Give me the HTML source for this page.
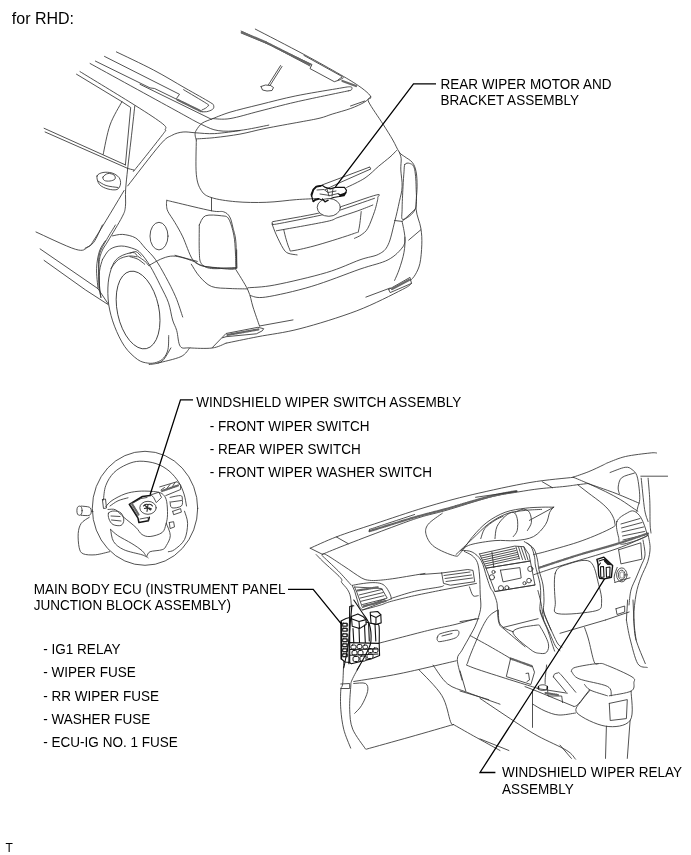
<!DOCTYPE html>
<html><head><meta charset="utf-8">
<style>
html,body{margin:0;padding:0;background:#fff;}
body{width:691px;height:855px;overflow:hidden;position:relative;}
svg{position:absolute;left:0;top:0;}
text{font-family:"Liberation Sans",sans-serif;fill:#000;}
svg{will-change:transform;}
.l{font-size:13.37px;}
.d{fill:none;stroke:#333;stroke-width:0.85;stroke-linejoin:round;stroke-linecap:round;}
.k{fill:none;stroke:#000;stroke-width:1.3;}
.h{fill:none;stroke:#6a6a6a;stroke-width:2.2;}
.hl{fill:none;stroke:#666;stroke-width:2.2;stroke-dasharray:0.7 1.1;}
.f{fill:#1a1a1a;stroke:none;}
.w{fill:none;stroke:#111;stroke-width:1.15;stroke-linejoin:round;}
</style></head><body>
<svg width="691" height="855" viewBox="0 0 691 855">
<text transform="translate(11.8,24.2) scale(1,1.0)" style="font-size:16.0px">for RHD:</text>
<text transform="translate(440.5,88.9) scale(1,1.07)" style="font-size:13.52px">REAR WIPER MOTOR AND</text>
<text transform="translate(440.5,105.1) scale(1,1.07)" style="font-size:13.52px">BRACKET ASSEMBLY</text>
<text transform="translate(196.3,406.9) scale(1,1.07)" style="font-size:13.52px">WINDSHIELD WIPER SWITCH ASSEMBLY</text>
<text transform="translate(209.8,431.1) scale(1,1.07)" style="font-size:13.52px">- FRONT WIPER SWITCH</text>
<text transform="translate(209.8,453.9) scale(1,1.07)" style="font-size:13.52px">- REAR WIPER SWITCH</text>
<text transform="translate(209.8,477) scale(1,1.07)" style="font-size:13.52px">- FRONT WIPER WASHER SWITCH</text>
<text transform="translate(33.8,594.1) scale(1,1.07)" style="font-size:13.52px">MAIN BODY ECU (INSTRUMENT PANEL</text>
<text transform="translate(33.8,610.4) scale(1,1.07)" style="font-size:13.52px">JUNCTION BLOCK ASSEMBLY)</text>
<text transform="translate(43.3,653.6) scale(1,1.07)" style="font-size:13.52px">- IG1 RELAY</text>
<text transform="translate(43.3,677.2) scale(1,1.07)" style="font-size:13.52px">- WIPER FUSE</text>
<text transform="translate(43.3,700.8) scale(1,1.07)" style="font-size:13.52px">- RR WIPER FUSE</text>
<text transform="translate(43.3,723.9) scale(1,1.07)" style="font-size:13.52px">- WASHER FUSE</text>
<text transform="translate(43.3,747.3) scale(1,1.07)" style="font-size:13.52px">- ECU-IG NO. 1 FUSE</text>
<text transform="translate(502,777.4) scale(1,1.07)" style="font-size:13.52px">WINDSHIELD WIPER RELAY</text>
<text transform="translate(502,793.5) scale(1,1.07)" style="font-size:13.52px">ASSEMBLY</text>
<text transform="translate(5.6,852) scale(1,1.05)" style="font-size:12px">T</text>
<g class="d">
<path d="M116.4,51.9 C122.6,54.9 142.1,64.0 153.5,70.0 C164.9,76.0 175.6,82.6 185.0,88.0 C194.4,93.4 205.4,99.4 210.2,102.4 C215.0,105.4 213.3,104.7 213.7,105.9 C214.1,107.1 213.7,108.4 212.5,109.4 C211.3,110.4 208.4,111.3 206.7,111.7 C205.0,112.1 202.9,111.7 202.1,111.7"/>
<path d="M183.6,89.7 C187.4,92.0 202.6,100.9 206.7,103.6 C210.8,106.3 208.1,105.1 207.9,105.9 C207.7,106.7 206.6,107.5 205.6,108.2 C204.6,108.9 202.7,109.6 202.1,109.9"/>
<path d="M104.5,56.4 L179.5,94.3 L176.6,98.4"/>
<path d="M95.4,61.1 L150.0,87.9 L154.6,88.5 L202.1,111.7"/>
<path d="M140.0,84.3 L211.3,119.2"/>
<path d="M90.1,63.5 C104.2,71.3 156.4,99.9 175.0,110.1 C193.6,120.3 194.5,121.1 201.7,124.5 C208.9,127.9 211.8,129.6 218.2,130.6 C224.6,131.6 231.6,131.3 240.0,130.4 C248.4,129.5 264.0,126.0 268.8,125.1"/>
<path class="hl" d="M177.5,99.8 L201.0,111.3"/>
<path d="M80.0,71.6 C89.1,77.2 121.0,96.5 134.8,105.2 C148.6,113.9 157.7,119.8 162.8,123.9 C167.9,128.0 165.2,128.1 165.2,129.8 C165.2,131.6 167.7,128.0 162.8,134.4 C157.9,140.8 140.8,162.5 135.9,168.4 C131.0,174.3 135.0,169.8 133.6,169.8 C132.2,169.8 128.7,168.6 127.7,168.4"/>
<path d="M76.5,74.2 L121.9,101.7 L130.7,107.5 L125.4,164.9"/>
<path d="M121.9,101.7 C119.9,105.6 113.1,116.2 110.0,125.0 C106.9,133.8 104.3,149.4 103.2,154.3"/>
<path d="M44.1,128.3 L125.4,164.9"/>
<path d="M45.1,132.0 L127.7,168.4"/>
<path d="M134.8,105.8 C134.2,111.5 132.2,129.6 131.0,140.0 C129.8,150.4 128.6,160.1 127.7,168.4 C126.8,176.7 126.0,183.6 125.6,190.0 C125.2,196.4 126.0,202.2 125.4,206.7 C124.8,211.2 125.0,211.2 122.1,216.9 C119.2,222.7 111.3,235.5 107.9,241.2 C104.5,246.9 103.4,247.6 101.9,251.3 C100.4,255.0 99.5,257.4 99.0,263.5 C98.5,269.6 99.0,283.8 99.0,287.8"/>
<path d="M240.0,130.6 C235.8,131.1 222.1,133.2 214.7,133.6 C207.3,134.0 200.9,133.1 195.6,132.8 C190.3,132.5 187.1,131.6 183.1,132.0 C179.1,132.4 175.4,133.4 171.6,135.5 C167.8,137.6 167.3,136.4 160.0,144.8 C152.7,153.2 133.1,179.1 127.7,185.9"/>
<path d="M36.0,232.0 C42.6,234.9 66.9,246.8 75.5,249.3 C84.1,251.8 84.3,249.2 87.7,247.2 C91.1,245.2 89.7,246.5 95.8,237.1 C101.9,227.7 119.4,198.3 124.1,190.5"/>
<path d="M85.0,248.2 C86.5,247.2 90.8,246.3 93.7,242.4 C96.6,238.5 101.0,227.9 102.4,225.0"/>
<path d="M40.1,248.9 L98.0,288.7 L108.2,303.9"/>
<path d="M44.1,260.4 L85.6,290.0 L108.2,304.6"/>
<path d="M97.0,176.0 C97.6,174.0 100.5,173.0 103.0,172.5 C105.5,172.0 109.3,172.2 112.0,173.0 C114.7,173.8 117.6,175.7 119.0,177.5 C120.4,179.3 120.8,182.0 120.5,184.0 C120.2,186.0 119.1,188.7 117.0,189.5 C114.9,190.3 110.9,189.8 108.0,189.0 C105.1,188.2 101.3,186.7 99.5,184.5 C97.7,182.3 96.4,178.0 97.0,176.0Z"/>
<path d="M103.0,177.0 C103.6,175.8 106.2,173.8 108.0,173.5 C109.8,173.2 112.8,174.1 114.0,175.0 C115.2,175.9 115.7,178.0 115.0,179.0 C114.3,180.0 111.8,180.8 110.0,181.0 C108.2,181.2 105.7,181.2 104.5,180.5 C103.3,179.8 102.4,178.2 103.0,177.0Z"/>
<path d="M98.0,181.0 C99.3,181.8 102.7,184.4 106.0,185.5 C109.3,186.6 116.0,187.2 118.0,187.5"/>
<path d="M115.4,225.0 C114.0,227.4 109.4,234.7 106.7,239.5 C104.0,244.3 100.8,249.1 99.5,253.9 C98.2,258.7 98.7,263.1 98.7,268.4 C98.7,273.7 99.1,281.0 99.5,285.8 C99.9,290.6 100.7,295.5 100.9,297.4"/>
<path d="M105.3,240.9 C104.3,242.6 101.0,246.4 99.5,251.0 C98.0,255.6 96.8,262.1 96.6,268.4 C96.3,274.7 97.8,285.3 98.0,288.7"/>
<ellipse cx="159" cy="236.1" rx="9" ry="13.8"/>
<path d="M166.9,200.3 C166.8,201.1 166.3,203.2 166.5,205.0 C166.7,206.8 166.5,208.5 167.9,211.4 C169.3,214.3 172.4,218.2 174.9,222.5 C177.4,226.8 179.9,230.8 182.8,236.9 C185.7,243.0 189.2,254.4 192.4,259.2 C195.6,264.0 198.1,264.1 201.9,265.5 C205.7,266.9 209.3,267.0 215.0,267.5 C220.7,268.0 232.3,268.3 235.8,268.5"/>
<path d="M175.0,255.3 L197.3,261.4"/>
<path d="M166.9,200.3 C168.2,200.6 167.6,200.6 175.0,202.3 C182.4,204.1 203.4,209.2 211.5,210.8 C219.6,212.4 220.6,210.8 223.6,211.8 C226.6,212.8 228.1,214.2 229.7,216.9 C231.3,219.6 232.0,223.9 233.0,228.0 C234.0,232.1 235.2,234.6 235.8,241.2 C236.4,247.8 236.6,263.1 236.8,267.5"/>
<path d="M199.3,225.0 C200.3,223.5 201.7,217.3 205.4,215.8 C209.1,214.3 217.7,215.3 221.6,215.8 C225.5,216.3 226.7,215.7 228.7,218.9 C230.7,222.1 232.7,229.6 233.8,235.1 C234.9,240.6 235.1,246.6 235.4,252.0 C235.7,257.4 235.7,264.9 235.8,267.5"/>
<path d="M235.8,267.5 C231.8,267.7 217.2,269.2 211.5,268.5 C205.8,267.8 203.3,266.4 201.3,263.5 C199.3,260.6 199.6,257.7 199.3,251.3 C199.0,244.9 199.3,229.4 199.3,225.0"/>
<path d="M211.5,197.6 L211.5,210.8"/>
<path d="M196.3,140.0 C196.3,145.7 195.5,165.9 196.3,174.3 C197.1,182.7 198.8,186.6 201.3,190.5 C203.8,194.4 205.8,195.7 211.5,197.6 C217.2,199.5 226.7,200.9 235.8,201.7 C244.9,202.5 256.1,202.7 266.2,202.3 C276.3,202.0 288.3,200.2 296.6,199.6 C304.9,199.0 312.9,198.8 316.2,198.6"/>
<path d="M211.3,119.2 C209.8,119.9 204.6,121.4 202.1,123.2 C199.6,125.0 197.5,128.3 196.3,130.2 C195.1,132.1 195.1,133.2 195.1,134.8 C195.1,136.4 196.1,139.1 196.3,140.0"/>
<path d="M211.3,119.2 C214.4,118.0 221.9,114.7 230.0,112.2 C238.1,109.8 249.0,107.2 260.0,104.5 C271.0,101.8 283.1,98.5 295.8,95.9 C308.5,93.3 327.2,90.3 336.3,88.8 C345.4,87.3 348.0,86.6 350.5,86.8 C353.0,87.0 351.8,89.1 351.5,89.8 C351.2,90.5 349.0,90.6 348.5,90.8"/>
<path d="M212.5,118.6 C215.4,118.6 222.1,119.9 230.0,118.6 C237.9,117.3 249.0,113.8 260.0,111.0 C271.0,108.2 281.1,105.4 295.8,102.0 C310.6,98.6 339.7,92.7 348.5,90.8"/>
<path d="M196.5,138.9 C199.5,138.7 207.4,138.4 214.7,137.6 C221.9,136.8 231.6,135.6 240.0,134.1 C248.4,132.6 255.0,130.5 265.0,128.5 C275.0,126.5 290.8,123.7 300.0,122.0 C309.2,120.3 314.6,119.4 320.0,118.1 C325.4,116.8 327.1,115.7 332.2,114.1 C337.3,112.5 345.2,110.5 350.6,108.5 C356.0,106.5 361.4,104.0 364.7,102.0 C368.0,100.0 369.7,97.4 370.7,96.5"/>
<path d="M350.5,106.0 L364.7,101.0"/>
<path d="M255.3,29.1 C263.4,33.3 289.7,46.8 303.9,54.4 C318.1,62.0 331.2,69.4 340.3,74.6 C349.4,79.8 353.9,82.6 358.6,85.8 C363.3,89.0 366.7,91.9 368.7,93.9 C370.7,95.9 370.7,96.6 370.7,97.9 C370.7,99.2 366.6,97.6 368.7,102.0 C370.8,106.4 379.1,118.0 383.1,124.3 C387.1,130.6 390.1,135.3 392.8,140.0 C395.5,144.7 397.3,149.4 399.3,152.2 C401.3,155.0 402.7,155.1 404.9,156.8 C407.1,158.5 410.5,160.0 412.4,162.5 C414.3,165.0 415.3,167.8 416.1,171.8 C416.9,175.9 417.1,180.6 417.1,186.8 C417.1,193.0 415.5,202.3 416.1,209.2 C416.7,216.1 419.9,222.1 420.8,228.0 C421.8,233.9 422.0,238.9 421.8,244.8 C421.6,250.7 421.0,258.5 419.9,263.5 C418.8,268.5 416.8,272.0 415.2,274.8 C413.6,277.6 411.3,279.5 410.5,280.4"/>
<path d="M241.1,31.1 L312.0,64.5 L310.0,68.6 L334.3,81.7 L340.3,79.7 L343.4,77.7"/>
<path d="M241.1,33.0 L270.4,45.0 L310.0,66.0"/>
<path d="M303.9,55.4 L342.4,76.7 L338.0,80.0"/>
<path class="h" d="M242.0,32.2 L265.8,42.3"/>
<path class="hl" d="M265.8,42.3 L310.0,64.6"/>
<path class="h" d="M342.4,81.0 L356.0,86.0"/>
<path d="M280.6,65.5 L268.4,84.8"/>
<path d="M282.0,66.5 L270.0,85.5"/>
<path d="M261.0,86.5 L265.5,85.0 L270.5,85.5 L273.5,87.5 L272.0,90.5 L267.0,91.0 L262.5,90.0 L261.0,86.5"/>
<path d="M369.3,167.2 L322.5,184.8"/>
<path d="M370.3,169.2 L338.4,183.3 L325.5,189.5"/>
<path d="M369.3,167.2 C369.5,167.3 370.4,167.6 370.6,167.9 C370.8,168.2 370.4,169.0 370.3,169.2"/>
<path class="w" d="M311.1,194.4 L313.1,189.4 L316.1,186.3 L322.2,185.3 L325.3,187.4 L330.3,188.9 L335.4,187.4 L344.5,187.4 L346.5,190.4 L345.5,193.4 L341.5,194.4 L339.4,196.5 L333.4,197.5 L328.3,199.5 L326.3,202.0 L323.2,200.5 L318.2,198.5 L315.1,199.5 L313.1,201.5 L312.1,197.5 L311.1,194.4"/>
<path style="fill:none;stroke:#111;stroke-width:1.5" d="M311.5,196 L313.5,189.8 L316.5,186.8 L321,186 M339.8,196.3 L344,195.5 L345.8,192.5 M318.6,199 L315.4,200 L313.5,201.5 M326,202 L324,200.5"/>
<path d="M317.0,190.0 L324.0,189.5 L328.0,192.5 L336.0,191.0M320.0,194.0 L330.0,195.5 L338.0,193.5M327.0,189.0 L329.0,196.0M333.0,188.5 L332.0,196.0"/>
<path d="M273.0,221.6 C280.5,220.2 306.5,215.8 317.9,213.3 C329.3,210.8 331.5,209.7 341.2,206.6 C350.9,203.5 370.1,196.5 376.2,195.0 C382.3,193.5 377.7,196.2 377.8,197.5 C377.9,198.8 377.6,200.2 377.0,202.5 C376.4,204.8 376.0,207.3 374.5,211.6 C373.0,215.9 370.0,224.4 367.8,228.3 C365.6,232.2 363.4,233.2 361.2,234.9 C359.0,236.6 355.6,237.7 354.5,238.3"/>
<path d="M273.0,221.6 C272.9,222.0 271.6,221.9 272.2,224.1 C272.8,226.3 274.5,230.9 276.3,234.9 C278.1,238.9 281.1,245.1 283.0,248.2 C284.9,251.2 285.6,252.1 288.0,253.2 C290.4,254.3 295.6,254.6 297.1,254.9"/>
<path d="M273.0,223.3 C273.6,223.4 268.8,225.3 276.3,224.1 C283.8,222.8 307.6,218.0 317.9,215.8 C328.2,213.6 328.5,213.7 337.9,210.8 C347.3,207.9 368.4,200.4 374.5,198.3"/>
<path d="M276.3,230.8 C284.6,229.3 315.9,223.8 326.2,221.6 C336.5,219.4 332.6,219.3 337.9,217.5 C343.2,215.7 352.1,212.9 357.9,210.8 C363.7,208.7 370.3,206.0 372.8,205.0"/>
<path d="M283.8,229.9 C284.2,231.6 285.3,236.7 286.3,239.9 C287.3,243.1 288.5,247.3 289.6,249.1 C290.7,250.9 288.3,251.4 293.0,250.7 C297.7,250.0 307.6,247.8 317.9,244.9 C328.1,242.0 347.7,235.8 354.5,233.3 C361.3,230.8 357.6,233.5 358.7,229.9 C359.8,226.3 360.8,214.7 361.2,211.6"/>
<path d="M346.6,187.5 C349.7,185.9 359.6,181.6 365.0,178.0 C370.4,174.4 374.5,169.7 378.7,166.2 C382.9,162.7 387.0,159.6 390.0,157.0 C393.0,154.4 395.4,151.6 396.5,150.5"/>
<path d="M404.9,164.3 C405.8,162.9 408.0,162.8 409.6,163.4 C411.2,164.0 413.2,164.2 414.3,168.1 C415.4,172.0 416.0,180.0 416.1,186.8 C416.2,193.7 417.4,203.8 415.2,209.2 C413.0,214.6 405.2,219.5 403.0,219.5 C400.8,219.5 402.1,214.6 402.1,209.2 C402.1,203.8 402.7,193.0 403.0,186.8 C403.3,180.6 403.7,175.6 404.0,171.8 C404.3,168.1 404.0,165.7 404.9,164.3Z"/>
<path d="M394.6,220.5 L402.1,221.4 L415.2,209.2"/>
<path d="M402.1,221.4 C402.6,224.1 404.6,232.2 404.9,237.3 C405.2,242.5 404.9,247.0 404.0,252.3 C403.1,257.6 400.9,264.4 399.3,269.1 C397.7,273.8 395.4,278.5 394.6,280.4"/>
<path d="M408.7,240.1 L420.8,229.8"/>
<path d="M247.9,287.8 C252.4,287.3 261.6,287.5 274.7,285.0 C287.8,282.5 312.2,276.8 326.4,272.6 C340.6,268.4 351.3,262.9 360.0,259.8 C368.7,256.7 374.0,256.7 378.7,254.2 C383.4,251.7 385.5,250.2 388.1,244.8 C390.8,239.4 392.7,229.2 394.6,222.0 C396.5,214.8 398.1,207.7 399.3,201.8 C400.6,195.9 401.9,192.1 402.1,186.8 C402.4,181.5 401.0,174.6 400.8,169.9 C400.6,165.2 401.4,161.6 401.2,158.7 C400.9,155.8 399.6,153.3 399.3,152.2"/>
<path d="M250.4,295.6 C252.9,295.9 255.5,298.6 265.6,297.1 C275.7,295.6 295.5,291.2 311.2,286.5 C326.9,281.8 347.2,273.6 360.0,269.1 C372.8,264.7 380.9,263.5 388.1,259.8 C395.3,256.1 400.2,250.4 403.0,246.7 C405.8,242.9 404.6,238.9 404.9,237.3"/>
<path d="M226.0,343.2 C231.3,342.1 245.6,339.1 257.9,336.7 C270.2,334.3 283.5,333.0 300.0,328.7 C316.5,324.4 339.7,317.3 356.8,310.8 C373.9,304.3 393.3,294.1 402.4,289.5 C411.5,284.9 410.0,284.4 411.5,283.4"/>
<path d="M235.8,269.5 C237.8,272.9 245.0,283.8 247.9,290.0 C250.8,296.2 251.1,301.0 253.0,307.0 C254.9,313.0 258.4,322.8 259.5,326.0"/>
<path d="M236.7,250.0 L236.7,268.2"/>
<path d="M212.3,347.6 L226.0,333.5 L257.9,327.3 L263.7,328.7 L262.2,330.9 L256.4,333.8 L226.0,336.7 L222.5,337.8"/>
<path d="M259.5,326.0 L293.0,319.9"/>
<path d="M388.7,289.5 L410.0,277.4 L411.5,283.4 L390.2,292.6 L388.7,289.5"/>
<path class="hl" d="M227.5,334.9 L258.5,329.4"/>
<path class="h" d="M392.0,289.0 L409.0,280.0"/>
<path d="M365.9,297.1 L390.2,288.0"/>
<ellipse cx="328.8" cy="207.4" rx="11.6" ry="8.9" style="fill:#fff"/>
<path style="fill:none;stroke:#111;stroke-width:1.3;stroke-linejoin:round" d="M322.5,199 L325,201.8 L328.2,200.2 M338.5,194 L341.8,195.4 L345.5,192.8"/>
<path d="M112.5,235.9 C114.2,235.7 118.7,234.1 122.6,234.4 C126.5,234.8 131.9,235.7 135.7,238.0 C139.5,240.3 141.9,244.5 145.2,248.1 C148.5,251.7 151.9,254.6 155.3,259.3 C158.7,264.0 162.1,270.3 165.5,276.5 C168.9,282.7 172.7,289.9 175.6,296.7 C178.5,303.4 181.5,313.6 182.7,317.0"/>
<path d="M102.4,259.7 C103.6,258.0 106.5,251.9 109.6,249.6 C112.7,247.3 117.1,246.1 121.2,246.0 C125.3,245.9 130.9,247.7 134.2,248.9 C137.5,250.2 138.3,250.6 141.0,253.5 C143.7,256.4 147.1,260.9 150.3,266.3 C153.5,271.7 157.4,279.5 160.4,285.6 C163.4,291.7 166.5,297.1 168.5,302.8 C170.5,308.5 171.2,315.4 172.6,320.0 C174.0,324.6 175.4,326.1 176.7,330.5 C178.0,334.9 178.1,343.5 180.3,346.4 C182.5,349.3 184.4,347.6 189.7,347.9 C195.0,348.2 206.2,348.8 212.3,348.0 C218.4,347.2 223.7,344.0 226.0,343.2"/>
<path d="M102.4,259.7 C101.9,261.6 100.0,266.5 99.5,271.3 C99.0,276.1 99.3,284.4 99.5,288.7 C99.7,293.0 100.7,295.9 100.9,297.4"/>
<path d="M149.0,266.0 C148.3,265.2 146.5,262.6 144.7,261.0 C142.9,259.4 140.0,257.9 138.0,256.5 C136.0,255.1 135.9,252.4 132.8,252.5 C129.8,252.6 123.1,254.6 119.7,256.8 C116.3,259.0 114.4,261.1 112.5,265.5 C110.6,269.9 108.8,276.4 108.2,282.9 C107.6,289.4 107.7,297.3 108.7,304.5 C109.8,311.7 111.8,319.2 114.5,326.2 C117.2,333.2 120.8,340.8 124.6,346.4 C128.4,351.9 133.7,356.7 137.6,359.5 C141.5,362.3 144.7,362.6 147.8,363.1 C150.9,363.6 153.8,363.2 156.4,362.4 C159.1,361.5 161.8,360.2 163.7,358.0 C165.6,355.8 167.2,353.0 168.0,349.3 C168.8,345.6 168.6,337.9 168.7,335.6"/>
<path d="M130.0,253.2 C131.0,252.9 134.2,251.2 136.1,251.7 C137.9,252.2 140.3,255.4 141.1,256.2"/>
<path d="M130.0,256.7 C131.3,257.1 135.7,258.0 138.1,259.3 C140.5,260.6 143.6,263.5 144.7,264.3"/>
<path d="M111.0,268.4 C112.2,266.9 115.4,261.8 118.3,259.7 C121.2,257.6 125.3,256.6 128.4,256.1 C131.5,255.6 135.7,256.7 137.1,256.8"/>
<path d="M170.9,347.9 C169.7,349.8 165.9,357.0 163.7,359.5 C161.5,362.0 160.3,362.3 157.9,363.1 C155.5,363.9 150.6,364.3 149.2,364.5"/>
<path d="M157.9,363.1 C161.8,362.0 175.7,359.1 181.0,356.6 C186.3,354.1 188.2,349.3 189.7,347.9"/>
<ellipse cx="138.1" cy="310" rx="20.8" ry="39.5" transform="rotate(-12 138.1 310)"/>
<path d="M149.3,265.3 C151.2,264.3 156.9,260.8 160.4,259.3 C163.9,257.8 167.1,256.6 170.5,256.2 C173.9,255.8 176.6,256.3 180.7,257.2 C184.8,258.1 191.0,260.3 194.8,261.8 C198.6,263.3 197.5,265.0 203.4,266.2 C209.3,267.4 224.4,268.9 230.0,269.2 C235.6,269.5 235.6,268.4 236.7,268.2"/>
<path d="M191.3,264.2 C192.7,266.2 196.0,272.6 199.4,276.3 C202.8,280.0 206.5,284.5 211.6,286.5 C216.7,288.5 224.0,288.1 230.0,288.5 C236.0,288.9 244.5,288.8 247.4,288.9"/>
<ellipse cx="145" cy="508.3" rx="52.7" ry="57"/>
<path d="M103.4,500.1 C103.8,497.7 104.0,490.1 105.8,485.5 C107.5,480.9 110.4,476.1 113.9,472.6 C117.4,469.1 122.6,466.3 126.9,464.4 C131.2,462.5 135.0,461.3 139.9,461.2 C144.8,461.1 151.2,462.0 156.1,463.6 C160.9,465.2 165.2,467.8 169.0,470.9 C172.8,474.0 176.3,478.4 178.8,482.3 C181.3,486.2 182.7,490.1 184.0,494.0 C185.3,497.9 186.1,504.0 186.5,506.0"/>
<path d="M102.4,499.5 L105.5,499.0 L106.5,508.0 L103.5,508.5 L102.4,499.5"/>
<path d="M105.8,506.6 C106.8,505.6 108.8,502.6 112.0,500.5 C115.2,498.4 120.7,495.4 125.0,493.9 C129.3,492.4 133.7,491.7 138.0,491.3 C142.3,490.9 147.4,491.1 151.0,491.3 C154.6,491.5 157.5,491.9 159.7,492.6 C161.9,493.3 162.9,494.1 164.1,495.6 C165.3,497.1 166.1,498.5 166.7,501.7 C167.3,504.9 167.6,511.0 167.5,514.7 C167.4,518.4 166.9,521.0 166.0,524.0 C165.1,527.0 164.8,530.4 162.2,532.5 C159.5,534.6 153.5,536.2 150.1,536.5 C146.7,536.8 144.4,536.0 142.0,534.5 C139.6,533.0 138.9,530.3 135.9,527.4 C132.9,524.5 127.2,520.2 123.8,517.3 C120.4,514.4 118.2,511.1 115.6,509.8 C113.0,508.5 109.3,509.6 108.0,509.5"/>
<path d="M110.0,506.0 C111.3,505.1 115.0,502.2 118.0,500.8 C121.0,499.4 126.3,498.3 128.0,497.8"/>
<path style="fill:none;stroke:#111;stroke-width:1.5;stroke-linejoin:round" d="M129.3,504.3 L142.4,496.5 L150.2,495.6 M129.3,504.3 L138,518.2 L138.9,522.5 L148.4,520.8 L149.3,517.3"/>
<path d="M131.0,505.5 L137.5,516.0M133.0,503.0 L141.0,498.5 L147.0,497.5"/>
<path class="hl" d="M131.8,503.5 L138.5,514.5"/>
<ellipse cx="148" cy="507.8" rx="8.2" ry="6.5"/>
<path style="fill:none;stroke:#2a2a2a;stroke-width:1.1" d="M143.5,506 Q145,503.5 148,504.5 Q151,503.5 152.5,506 M148,504.5 L147,511.5 M144.5,508.5 Q148,507 151.5,509 M145,505.5 L150.5,510"/>
<path d="M140.0,519.0 L148.0,517.5 L148.4,520.8"/>
<path d="M151.0,494.8 L158.9,492.2 L161.5,497.4 L156.3,502.6 L153.6,497.4 L151.0,494.8"/>
<path d="M159.7,486.9 L177.1,481.7 L180.6,485.2 L180.6,489.5 L165.8,495.6"/>
<path d="M161.0,490.0 L164.5,487.5M166.0,489.5 L170.0,484.5M171.5,488.0 L175.0,482.5"/>
<path class="hl" d="M162.0,491.0 L178.0,485.5"/>
<path d="M170.1,497.4 C171.8,497.1 178.6,495.3 180.6,495.6 C182.6,495.9 182.2,497.4 182.3,499.1 C182.4,500.8 183.1,504.6 181.4,506.0 C179.7,507.4 173.8,508.5 171.9,507.8 C170.0,507.1 170.4,502.7 170.1,501.7"/>
<path d="M171.0,502.0 L181.5,500.5"/>
<path d="M172.7,511.3 L180.6,508.6 L181.4,512.1 L173.6,514.7 L172.7,511.3"/>
<path d="M169.3,522.5 L173.6,521.7 L174.5,526.9 L170.1,528.6 L169.3,522.5"/>
<path d="M108.6,513.0 C109.4,511.7 111.9,511.0 114.0,511.0 C116.1,511.0 119.4,511.5 121.0,513.0 C122.6,514.5 123.8,517.9 123.8,520.0 C123.8,522.1 122.8,524.6 121.0,525.4 C119.2,526.1 115.0,525.6 113.0,524.5 C111.0,523.4 109.7,520.9 109.0,519.0 C108.3,517.1 107.8,514.3 108.6,513.0Z"/>
<path d="M111.0,516.0 L120.0,516.5M111.5,520.0 L121.0,521.0"/>
<path d="M110.6,529.4 C111.8,530.4 114.2,533.1 117.7,535.5 C121.2,537.9 127.9,541.1 131.9,543.6 C136.0,546.1 139.7,548.7 142.0,550.7 C144.3,552.7 145.0,554.6 146.0,555.8 C147.0,557.0 147.8,557.5 148.1,557.8"/>
<path d="M110.6,529.4 C111.1,531.4 111.4,538.2 113.6,541.6 C115.8,545.0 119.1,547.5 123.8,549.7 C128.5,551.9 138.3,553.6 142.0,554.8 C145.7,556.0 145.3,556.6 146.0,557.0"/>
<path d="M166.3,523.4 C167.0,525.4 170.3,531.8 170.3,535.5 C170.3,539.2 167.7,543.2 166.3,545.6 C165.0,548.0 164.9,548.7 162.2,549.7 C159.5,550.7 152.6,550.7 150.1,551.7 C147.6,552.8 147.5,555.3 147.0,556.0"/>
<path d="M184.5,511.2 C185.0,513.2 187.6,518.7 187.6,523.4 C187.6,528.1 186.7,535.2 184.5,539.6 C182.3,544.0 177.1,547.7 174.4,549.7 C171.7,551.7 169.3,551.4 168.3,551.7"/>
<path d="M89.3,517.3 C88.0,518.3 83.0,520.7 81.2,523.4 C79.4,526.1 78.5,529.5 78.2,533.5 C77.9,537.5 78.4,544.3 79.2,547.7 C80.0,551.1 80.5,552.6 83.2,553.8 C85.9,555.0 91.0,555.1 95.4,554.8 C99.8,554.4 107.2,552.2 109.6,551.7"/>
<path d="M81.2,506.1 C82.5,506.3 87.6,506.4 89.3,507.2 C91.0,508.0 91.3,509.9 91.3,511.2 C91.3,512.5 91.0,514.6 89.3,515.3 C87.6,516.0 82.5,515.3 81.2,515.3"/>
<ellipse cx="79.5" cy="510.7" rx="2.6" ry="4.6"/>
<path d="M91.3,511.2 L93.0,511.5"/>
<path d="M310.2,548.2 C314.6,546.3 325.6,541.0 336.3,536.9 C347.0,532.8 359.7,528.8 374.5,523.9 C389.3,519.0 408.7,512.3 425.0,507.4 C441.3,502.5 454.6,498.8 472.1,494.7 C489.6,490.6 513.1,485.4 530.0,482.5 C546.9,479.6 566.2,478.2 573.4,477.3"/>
<path d="M310.2,548.2 L322.4,554.3"/>
<path d="M322.4,554.3 C326.7,552.5 336.8,548.3 348.4,543.8 C360.0,539.3 379.9,531.7 391.8,527.3 C403.7,522.9 411.0,520.1 420.0,517.3 C429.0,514.5 434.4,513.7 446.0,510.4 C457.6,507.1 477.6,500.4 489.5,497.3 C501.4,494.2 508.9,493.5 517.3,492.1 C525.7,490.7 532.0,489.6 540.0,488.7 C548.0,487.8 558.7,487.1 565.0,486.4 C571.3,485.7 573.9,485.2 577.7,484.7 C581.6,484.2 586.4,483.7 588.1,483.5"/>
<path d="M336.3,536.9 L348.4,543.8"/>
<path d="M542.2,481.7 L552.6,487.8"/>
<path class="hl" d="M369.5,531.2 C373.2,530.0 383.6,526.8 392.0,524.2 C400.4,521.6 411.0,518.3 420.0,515.8 C429.0,513.3 434.4,512.2 446.0,509.0 C457.6,505.8 477.7,499.6 489.5,496.6 C501.3,493.6 512.4,491.9 517.0,491.0"/>
<path d="M369.5,531.0 C369.5,530.8 369.4,529.9 369.6,529.5 C369.9,529.1 367.6,530.0 371.0,528.9 C374.4,527.8 382.7,525.0 390.0,522.6 C397.3,520.2 410.5,515.9 414.6,514.5"/>
<path d="M475.6,497.3 L517.3,491.3"/>
<path d="M573.1,477.2 C575.6,476.3 583.1,473.9 588.1,471.9 C593.1,469.9 599.9,466.6 603.2,465.0 C606.6,463.4 604.5,464.0 608.2,462.6 C611.9,461.2 618.5,458.1 625.5,456.5 C632.5,454.9 644.8,453.6 650.0,453.0 C655.2,452.4 655.5,453.0 656.6,453.0"/>
<path d="M573.1,477.2 C575.6,478.2 582.7,481.1 588.1,483.5 C593.5,485.9 600.1,488.9 605.5,491.6 C610.9,494.3 615.8,496.8 620.6,499.7 C625.4,502.6 631.5,507.1 634.4,509.0 C637.3,510.9 637.3,510.9 637.9,511.3"/>
<path d="M588.1,483.5 C590.0,484.2 594.9,485.9 599.7,487.6 C604.5,489.3 610.5,491.3 617.1,493.9 C623.7,496.5 635.4,501.6 639.1,503.2"/>
<path d="M577.7,484.7 C579.4,486.1 583.9,489.5 588.1,492.8 C592.4,496.1 599.3,500.9 603.2,504.4 C607.1,507.9 609.4,510.5 611.3,513.6 C613.2,516.7 614.8,520.6 614.8,523.0 C614.8,525.4 617.0,525.0 611.6,528.0 C606.2,531.0 592.8,536.9 582.1,540.7 C571.4,544.6 555.5,548.8 547.4,551.1 C539.3,553.4 535.8,554.0 533.5,554.6"/>
<path d="M322.4,554.3 C323.1,554.4 323.0,553.0 326.6,555.0 C330.2,557.0 338.1,562.4 343.9,566.2 C349.7,570.0 357.1,575.4 361.3,577.8 C365.6,580.1 366.5,579.9 369.4,580.3 C372.3,580.7 374.4,580.6 378.7,580.3 C383.0,580.0 387.3,579.5 395.0,578.4 C402.7,577.2 420.0,574.2 425.0,573.4"/>
<path d="M316.2,554.6 C317.4,555.8 319.1,557.7 323.1,561.6 C327.2,565.5 337.4,574.3 340.5,577.8 C343.6,581.3 340.5,580.5 341.6,582.4 C342.8,584.3 345.9,587.0 347.4,589.4 C348.9,591.8 349.8,593.6 350.5,597.0 C351.2,600.4 351.3,607.8 351.5,610.0"/>
<path d="M321.7,555.2 C324.4,557.8 333.2,565.9 338.1,570.8 C343.0,575.7 348.8,582.4 350.9,584.7"/>
<path d="M442.3,513.3 C439.9,515.1 430.8,520.8 428.1,524.4 C425.4,528.0 425.1,530.9 426.1,534.6 C427.1,538.3 429.5,543.2 434.2,546.7 C438.9,550.2 450.0,554.8 454.4,555.8 C458.8,556.8 457.4,556.0 460.5,552.8 C463.6,549.6 468.3,541.7 472.7,536.6 C477.1,531.5 481.5,526.5 486.9,522.4 C492.3,518.3 498.7,514.7 505.1,512.3 C511.5,509.9 519.2,509.0 525.3,508.2 C531.4,507.4 536.9,507.4 541.6,507.2 C546.3,507.0 551.7,507.2 553.7,507.2"/>
<path d="M456.0,554.5 C458.8,551.9 467.2,543.8 472.7,538.6 C478.2,533.5 483.2,527.8 488.9,523.6 C494.6,519.4 501.0,515.8 507.1,513.6 C513.2,511.4 519.5,511.1 525.3,510.4 C531.0,509.7 538.9,509.6 541.6,509.4"/>
<path d="M553.7,507.2 C553.0,508.0 551.1,509.4 549.7,512.3 C548.4,515.2 548.3,520.3 545.6,524.4 C542.9,528.5 538.6,533.9 533.5,536.6 C528.4,539.3 521.6,539.9 515.2,540.6 C508.8,541.3 502.4,539.9 495.0,540.6 C487.6,541.3 476.4,543.0 470.6,544.7 C464.9,546.4 462.2,549.8 460.5,550.8"/>
<path d="M480.8,538.6 C481.5,536.9 482.5,531.5 484.8,528.5 C487.1,525.5 491.8,522.4 494.9,520.4 C497.9,518.4 501.7,517.0 503.1,516.3"/>
<path d="M495.0,538.6 C495.3,536.6 495.3,530.2 497.0,526.5 C498.7,522.8 502.4,518.7 505.1,516.3 C507.8,513.9 511.2,511.9 513.2,512.3 C515.2,512.6 516.5,515.4 517.2,518.4 C517.9,521.4 517.9,527.5 517.2,530.5 C516.5,533.5 513.9,535.6 513.2,536.6"/>
<path d="M515.2,512.3 C516.6,511.8 520.9,509.2 523.3,509.2 C525.7,509.2 528.0,510.1 529.4,512.3 C530.8,514.5 531.7,519.4 531.4,522.4 C531.1,525.4 528.1,529.1 527.4,530.5"/>
<path d="M529.4,520.4 L553.7,507.2"/>
<path d="M461.7,550.3 C463.4,550.6 468.9,550.3 472.1,552.0 C475.4,553.7 478.8,556.4 481.2,560.6 C483.6,564.8 485.2,572.8 486.8,577.4 C488.4,582.0 489.4,585.4 490.5,588.0 C491.6,590.6 492.5,590.3 493.6,592.9 C494.7,595.5 496.4,599.7 497.1,603.4 C497.8,607.1 497.3,611.6 497.7,615.1 C498.1,618.6 498.4,622.1 499.5,624.5 C500.6,626.9 499.9,625.5 504.2,629.2 C508.4,632.9 521.5,643.8 525.0,646.7"/>
<path d="M464.3,551.5 C465.6,552.2 469.8,553.7 472.0,555.5 C474.2,557.3 476.1,559.2 477.4,562.5 C478.6,565.8 479.0,569.8 479.5,575.0 C480.0,580.2 480.0,588.7 480.2,594.0 C480.4,599.3 481.1,603.0 480.8,606.9 C480.5,610.8 479.4,614.2 478.4,617.5 C477.4,620.8 476.3,623.8 474.9,626.8 C473.5,629.8 472.3,631.7 470.2,635.6 C468.1,639.5 464.1,646.2 462.0,650.2 C459.9,654.2 457.3,654.6 457.3,659.6 C457.3,664.6 461.2,676.6 462.0,680.0"/>
<path d="M524.2,541.6 C525.4,542.5 529.5,544.2 531.2,546.8 C532.9,549.4 533.9,554.1 534.6,557.3 C535.3,560.5 534.6,561.6 535.5,566.0 C536.4,570.4 539.0,578.2 539.9,583.4 C540.8,588.6 540.7,592.9 540.7,597.3 C540.7,601.6 539.6,606.0 539.9,609.5 C540.2,613.0 541.2,614.7 542.5,618.2 C543.8,621.7 546.3,626.5 547.7,630.3 C549.1,634.0 550.0,637.2 551.1,640.7 C552.2,644.2 554.0,649.4 554.6,651.1"/>
<path d="M527.0,543.0 C528.2,544.0 532.2,546.2 534.0,549.0 C535.8,551.8 536.7,556.5 537.5,560.0 C538.3,563.5 538.1,565.8 539.0,570.0 C539.9,574.2 542.2,580.0 543.0,585.0 C543.8,590.0 543.9,595.8 544.0,600.0 C544.1,604.2 543.2,607.0 543.5,610.0 C543.8,613.0 544.8,614.7 546.0,618.0 C547.2,621.3 550.2,628.0 551.0,630.0"/>
<path d="M479.5,553.9 L514.7,546.1 L523.8,546.7 L529.0,554.5 L530.3,561.0 L486.0,568.2 L479.5,553.9"/>
<path d="M480.8,556.0 L515.0,548.5M481.8,558.0 L516.0,550.5M482.8,560.0 L517.0,552.5M483.6,562.0 L517.5,554.5M484.5,564.0 L518.5,556.5M485.3,566.0 L519.0,558.5"/>
<path d="M491.9,551.9 L493.8,567.6"/>
<path d="M516.0,547.0 L519.5,559.0M518.5,546.8 L522.5,559.5M521.0,546.9 L525.5,559.8M523.8,546.7 L528.0,560.0"/>
<path d="M486.0,568.2 L530.3,561.0 L535.0,585.0 L495.0,591.5 L486.0,568.2"/>
<path d="M500.4,570.2 L519.9,567.6 L521.2,578.0 L503.0,581.9 L500.4,570.2"/>
<circle cx="491.9" cy="577.3" r="2.6"/><circle cx="501" cy="588.2" r="2.6"/><circle cx="506.9" cy="587.7" r="2"/><circle cx="529" cy="580.6" r="2.3"/><circle cx="524.5" cy="583.2" r="1.6"/><circle cx="530.3" cy="568.9" r="2.6"/><circle cx="493.5" cy="572" r="1.6"/>
<path d="M495.0,591.5 L535.0,585.0"/>
<path d="M441.7,573.0 L467.8,569.5 L473.0,570.4 L474.7,581.7 L450.4,585.2 L443.5,583.4 L441.7,573.0"/>
<path d="M444.0,575.5 L470.0,572.0M445.0,578.5 L471.5,575.0M446.0,581.5 L472.5,578.0"/>
<path d="M420.0,574.6 L441.7,573.0"/>
<path d="M440.0,590.4 L476.5,583.4"/>
<path d="M469.5,586.9 C470.1,588.4 471.6,594.1 473.0,595.6 C474.4,597.1 477.3,595.6 478.2,595.6"/>
<path d="M352.2,585.4 C353.6,585.1 357.4,584.3 360.9,583.8 C364.3,583.3 369.4,582.6 372.9,582.6 C376.3,582.6 379.4,582.9 381.6,583.8 C383.9,584.6 384.9,585.9 386.4,587.7 C387.9,589.6 389.6,593.0 390.4,594.9 C391.2,596.8 391.1,598.2 391.2,598.9"/>
<path d="M391.2,598.9 L362.5,610.0 L359.3,606.8 L354.6,590.9 L352.2,585.4"/>
<path d="M354.6,587.0 L381.6,588.5 L387.2,598.1 L362.5,607.6 L356.9,592.5 L354.6,587.0"/>
<path d="M359.3,594.9 L382.4,589.3M360.1,598.1 L383.2,592.5M360.9,601.3 L384.0,595.7M362.5,604.5 L384.8,598.9"/>
<path class="hl" d="M357.5,590.5 L378.0,587.2"/>
<path class="hl" d="M364.0,606.0 L385.6,601.0"/>
<path d="M391.2,598.4 C395.1,597.2 406.6,593.2 414.7,591.3 C422.8,589.4 435.2,587.9 440.0,586.9 C444.8,585.9 442.9,585.7 443.5,585.5"/>
<path d="M362.5,610.0 C365.4,609.2 375.2,606.7 380.0,605.2 C384.8,603.8 385.5,602.9 391.3,601.3 C397.1,599.7 406.6,597.4 414.7,595.6 C422.8,593.8 435.8,591.3 440.0,590.4"/>
<path d="M378.1,643.4 C386.8,641.2 417.2,633.1 430.0,630.0 C442.8,626.9 447.3,626.4 455.0,624.5 C462.7,622.6 472.6,619.6 476.1,618.6"/>
<path d="M353.7,681.5 C361.4,680.2 382.9,677.1 400.0,673.6 C417.1,670.1 446.9,662.9 456.3,660.8"/>
<path d="M437.5,637.0 C438.1,635.8 437.7,634.6 441.0,633.5 C444.3,632.4 454.8,629.7 457.4,630.3 C460.0,630.9 459.2,635.4 456.5,637.3 C453.8,639.2 444.2,641.0 441.0,641.5 C437.8,642.0 438.1,641.2 437.5,640.5 C436.9,639.8 436.9,638.2 437.5,637.0Z"/>
<path d="M442.0,636.0 L452.0,633.5"/>
<path d="M343.7,661.6 C343.5,665.2 343.2,678.8 342.7,683.5 C342.2,688.2 341.1,685.7 340.8,690.0 C340.5,694.3 340.3,702.8 340.8,709.3 C341.3,715.8 342.1,722.7 343.7,729.2 C345.3,735.7 349.5,745.0 350.7,748.1"/>
<path d="M340.8,684.0 L349.7,683.5 L349.7,688.5 L340.8,688.5"/>
<path d="M359.6,665.6 C358.3,668.0 353.5,676.4 352.0,680.0 C350.5,683.6 351.1,682.6 350.7,687.5 C350.3,692.4 349.4,702.3 349.7,709.3 C350.0,716.2 350.0,722.6 352.7,729.2 C355.4,735.8 363.5,745.8 365.6,749.1"/>
<path d="M353.7,683.5 C355.7,683.5 363.3,682.2 365.6,683.5 C367.9,684.8 368.3,687.9 367.6,691.5 C366.9,695.1 363.8,701.8 361.6,705.4 C359.5,709.0 355.9,712.0 354.7,713.3"/>
<path d="M366.6,749.1 C373.8,747.1 395.5,741.1 410.0,737.0 C424.5,732.9 446.2,726.6 453.4,724.5"/>
<path d="M418.7,669.5 C422.6,673.8 436.5,686.8 441.8,695.5 C447.1,704.2 448.6,716.8 450.5,721.6 C452.4,726.4 452.9,724.0 453.4,724.5"/>
<path d="M433.1,665.1 C435.5,668.2 441.8,679.3 447.6,683.9 C453.4,688.5 459.2,689.2 467.9,692.6 C476.6,696.0 494.6,702.3 500.0,704.2"/>
<path d="M453.4,724.5 C456.8,726.4 465.9,731.7 473.7,736.0 C481.5,740.3 495.6,748.1 500.0,750.5"/>
<path d="M497.1,610.4 C495.9,611.2 492.2,613.0 490.1,615.1 C488.0,617.2 486.5,619.4 484.3,623.3 C482.1,627.2 479.9,632.1 477.2,638.5 C474.5,644.9 469.1,657.2 467.9,661.9 C466.7,666.6 464.0,663.9 470.2,666.6 C476.4,669.3 494.9,674.9 505.3,678.3 C515.7,681.6 526.9,685.0 532.4,686.7 C537.9,688.4 537.1,688.2 538.0,688.5"/>
<path d="M470.2,635.6 C473.5,637.4 483.3,642.7 490.0,646.5 C496.7,650.3 507.2,656.5 510.6,658.5"/>
<path class="hl" d="M510.6,658.5 L532.4,666.4"/>
<path d="M510.6,658.5 L506.3,676.6 L530.9,684.5 L534.5,672.2 L532.4,666.4"/>
<path d="M526.0,673.5 L528.5,673.0 L529.5,680.0 L527.0,681.5"/>
<path d="M512.8,631.7 C513.6,627.6 531.3,625.8 536.0,625.2 C540.7,624.6 539.0,625.1 541.0,628.1 C543.0,631.1 547.3,639.3 548.3,643.3 C549.3,647.3 548.1,650.3 546.8,652.0 C545.5,653.7 542.9,653.8 540.3,653.4 C537.6,653.0 535.5,653.4 530.9,649.8 C526.3,646.2 511.9,635.8 512.8,631.7Z"/>
<path d="M498.4,610.0 C498.5,611.9 498.3,618.7 499.1,621.6 C499.9,624.5 501.1,625.7 503.4,627.4 C505.7,629.1 511.2,631.0 512.8,631.7"/>
<path d="M503.4,627.4 L538.1,618.7"/>
<path d="M540.3,610.0 C540.7,611.2 540.9,613.3 542.5,617.2 C544.1,621.1 547.5,628.4 549.7,633.2 C551.9,638.0 553.8,643.3 555.5,646.2 C557.2,649.1 559.2,649.8 560.0,650.5"/>
<path d="M543.2,610.0 C543.6,611.2 543.8,613.3 545.4,617.2 C547.0,621.1 550.5,628.7 552.6,633.2 C554.7,637.7 556.4,641.7 558.0,644.0 C559.6,646.3 561.3,646.5 562.0,647.0"/>
<path d="M460.0,691.0 L488.9,699.7"/>
<path d="M460.0,670.8 L465.8,691.0"/>
<path d="M460.0,621.6 L478.8,618.7"/>
<path d="M610.1,472.5 C612.6,471.6 621.5,467.8 625.2,467.3 C628.9,466.8 630.2,468.2 632.1,469.6 C634.0,471.0 635.6,472.3 636.8,475.4 C638.0,478.5 638.6,484.1 639.1,488.1 C639.6,492.2 639.9,496.6 639.7,499.7 C639.5,502.8 638.4,504.8 637.9,506.7 C637.4,508.6 637.0,510.5 636.8,511.3"/>
<path d="M619.4,493.9 C619.2,492.8 617.8,489.7 618.2,487.0 C618.6,484.3 619.0,480.0 621.7,477.7 C624.4,475.4 632.3,473.9 634.4,473.1"/>
<path d="M641.2,478.2 C641.8,483.4 643.5,502.3 644.6,509.5 C645.8,516.7 647.5,519.6 648.1,521.6"/>
<path d="M648.1,478.2 C648.4,482.0 649.5,493.2 649.8,500.8 C650.1,508.4 649.9,518.6 650.1,524.0 C650.3,529.4 650.9,531.5 651.0,533.0"/>
<path d="M640.8,476.2 L667.6,476.2"/>
<path d="M616.8,521.6 C618.2,517.5 624.4,514.6 627.3,512.9 C630.2,511.2 631.9,510.3 634.2,511.2 C636.5,512.1 639.2,514.6 641.2,518.1 C643.2,521.6 645.8,528.8 646.4,532.0 C647.0,535.2 648.7,535.3 644.6,537.3 C640.5,539.3 626.3,544.2 622.0,544.2 C617.7,544.2 619.5,541.1 618.6,537.3 C617.7,533.5 615.3,525.7 616.8,521.6Z"/>
<path d="M621.0,524.0 L640.0,518.5M621.5,528.0 L642.0,522.5M622.0,532.0 L643.5,527.0M622.5,536.0 L644.5,531.5M623.0,540.0 L644.0,535.0"/>
<path d="M533.8,574.7 C538.2,573.2 546.3,570.3 560.0,566.0 C573.7,561.7 601.4,554.1 616.0,549.0 C630.6,543.9 642.5,537.8 647.8,535.5"/>
<path class="hl" d="M539.0,567.8 C545.8,565.6 567.2,558.4 580.0,554.5 C592.8,550.6 604.7,547.7 616.0,544.2 C627.3,540.7 642.5,535.3 647.8,533.5"/>
<path d="M647.8,533.5 C648.2,535.8 650.1,542.8 650.1,547.5 C650.1,552.2 649.3,556.4 647.8,561.5 C646.2,566.6 642.8,572.4 640.8,577.9 C638.8,583.4 637.3,587.6 636.1,594.2 C634.9,600.8 633.8,610.0 633.8,617.6 C633.8,625.2 635.7,636.3 636.1,640.0"/>
<path d="M643.0,540.0 C643.3,542.5 645.3,550.7 645.0,555.0 C644.7,559.3 642.5,562.2 641.0,566.0 C639.5,569.8 637.7,574.0 636.0,578.0 C634.3,582.0 632.2,585.5 631.0,590.0 C629.8,594.5 629.3,602.5 629.0,605.0"/>
<path d="M618.6,549.8 L640.8,542.8 L641.9,559.2 L620.9,563.9 L618.6,549.8"/>
<path style="fill:#fff;stroke:#111;stroke-width:1.4;stroke-linejoin:round" d="M596.9,559.3 L603.9,557.2 L612.6,565.6 L611.4,577.2 L604.5,578.9 L599.8,578.4 L598.7,575.5 L598.1,564.5 Z"/>
<path style="fill:#222;stroke:none" d="M604.5,557.8 L612,565.3 L607.5,565 L604,561.5 Z"/>
<path style="fill:none;stroke:#111;stroke-width:1.1" d="M599,561 L603.5,559.5 L606.5,561 M600.5,566.8 L603.5,566.5 L604,577 L600.8,577.5 Z M606.2,567.5 L610,567 L609.8,576.5 L606.5,577.2 Z M598.3,566 L600.5,563"/>
<ellipse cx="621.8" cy="574.9" rx="5.2" ry="7" style="fill:none;stroke:#333"/><ellipse cx="621.8" cy="574.9" rx="3.3" ry="4.7" style="fill:none;stroke:#333"/><ellipse cx="622" cy="575" rx="2.2" ry="3.2" style="fill:none;stroke:#555;stroke-width:0.6"/>
<path d="M617.2,567.4 C616.7,568.8 614.7,573.5 614.3,576.0 C613.9,578.5 614.8,581.3 614.9,582.4"/>
<path d="M614.9,582.4 L630.0,577.8"/>
<path d="M555.3,573.1 C557.2,566.8 561.0,566.4 566.8,564.5 C572.6,562.6 584.7,558.2 590.0,561.6 C595.3,565.0 596.8,578.0 598.7,584.7 C600.6,591.5 602.1,597.8 601.6,602.1 C601.1,606.5 603.0,608.9 595.8,610.8 C588.5,612.7 564.9,615.2 558.1,613.7 C551.4,612.2 555.8,608.9 555.3,602.1 C554.8,595.3 553.4,579.4 555.3,573.1Z"/>
<path d="M543.7,620.0 C543.2,617.0 541.8,607.0 540.8,602.1 C539.8,597.2 538.4,592.4 537.9,590.5"/>
<path d="M627.6,600.0 L626.4,620.0"/>
<path d="M633.0,600.0 L633.9,620.0"/>
<path d="M616.0,608.7 L624.7,606.0 L624.7,612.0 L617.0,614.5 L616.0,608.7"/>
<path d="M605.5,620.0 L629.1,612.0"/>
<path d="M480.0,698.4 C485.8,702.3 505.1,715.3 514.7,721.6 C524.4,727.9 529.2,731.2 537.9,736.0 C546.6,740.8 560.5,746.6 566.8,750.5 C573.1,754.4 574.0,757.8 575.5,759.2"/>
<path d="M480.0,738.9 L508.9,750.5"/>
<path d="M571.4,671.2 C572.0,670.6 570.8,668.7 575.2,667.4 C579.6,666.1 592.5,663.9 597.9,663.6 C603.3,663.3 601.7,663.3 607.4,665.5 C613.1,667.7 627.6,674.0 632.0,676.9 C636.4,679.8 634.0,680.2 633.9,682.6 C633.8,685.0 635.2,688.9 631.1,691.1 C627.0,693.3 612.9,695.0 609.3,695.8"/>
<path d="M571.4,671.2 C572.7,672.5 573.0,676.3 579.0,678.8 C585.0,681.3 602.0,683.6 607.4,686.4 C612.8,689.2 610.6,694.2 611.2,695.8"/>
<path d="M589.4,690.1 C588.2,691.8 584.1,696.2 582.0,700.0 C579.9,703.8 573.1,708.5 577.0,712.9 C580.9,717.3 596.6,724.9 605.5,726.2 C614.4,727.5 625.8,726.4 630.1,720.5 C634.4,714.6 630.9,696.0 631.1,691.1"/>
<path d="M584.6,684.5 C585.5,685.4 586.5,688.2 590.3,690.1 C594.1,692.0 604.5,694.8 607.4,695.8"/>
<path d="M609.3,703.4 L627.3,699.6 L626.4,718.6 L610.2,720.5 L609.3,703.4"/>
<path d="M606.4,726.2 L605.5,758.4"/>
<path d="M630.1,720.5 L627.3,758.4"/>
<path d="M626.4,620.0 C627.0,623.2 628.2,631.7 630.1,639.0 C632.0,646.3 634.9,658.9 637.7,663.6 C640.6,668.3 645.6,666.8 647.2,667.4"/>
<path d="M633.9,620.0 C634.2,623.2 633.9,631.7 635.8,639.0 C637.7,646.3 643.7,659.5 645.3,663.6"/>
<path d="M584.6,627.6 C585.2,629.5 586.8,633.3 588.4,639.0 C590.0,644.7 592.5,657.6 594.1,661.7 C595.7,665.8 597.3,663.3 597.9,663.6"/>
<path d="M560.0,633.3 L605.5,620.0"/>
<path d="M560.0,745.1 L571.4,758.4"/>
<ellipse cx="542.9" cy="687.6" rx="4.7" ry="2.8"/>
<path style="fill:none;stroke:#111;stroke-width:1.4" d="M538.5,686.5 L538.6,689 M547.3,686.5 L547.2,689"/>
<path d="M553.5,677.0 C553.6,676.6 553.5,675.1 554.2,674.4 C554.9,673.7 556.8,673.0 557.9,673.0 C559.0,673.0 557.7,671.2 560.7,674.4 C563.7,677.6 573.3,689.3 575.8,692.3"/>
<path d="M553.5,677.0 L566.0,692.0"/>
<path d="M525.0,686.6 L537.2,691.3 L573.9,706.4"/>
<path d="M573.9,706.4 C574.5,706.1 575.0,707.2 577.7,704.5 C580.4,701.8 587.9,692.8 589.9,690.4"/>
<path d="M532.5,690.5 L532.5,727.4"/>
<path d="M532.5,704.0 C534.6,705.2 540.6,709.2 545.0,711.0 C549.4,712.8 553.8,714.7 558.9,715.0 C564.0,715.3 572.7,713.3 575.5,713.0"/>
<path d="M537.2,688.5 L567.3,693.2"/>
<path d="M547.6,689.5 L548.0,696.0 L561.7,696.0 L562.6,702.6"/>
<path class="hl" d="M545.5,693.0 L558.0,695.0"/>
<path d="M546.6,665.0 C546.4,667.4 545.4,676.0 545.2,679.1 C545.0,682.2 545.2,683.0 545.2,683.8"/>
<g style="stroke:#111;stroke-width:1.1"><path d="M341.0,621.0 L346.0,618.5 L349.7,617.5 L349.7,662.5 L345.0,662.0 L341.5,659.0 L341.0,621.0"/>
<path style="fill:none;stroke:#111;stroke-width:1.6" d="M341.3,622 L341.3,659"/>
<rect x="342.2" y="623" width="5.5" height="3.6" rx="1" style="fill:#2a2a2a;stroke:#111;stroke-width:0.6"/>
<rect x="343.2" y="623.9" width="3.2" height="1.6" rx="0.6" style="fill:#fff;stroke:none"/>
<rect x="342.2" y="628" width="5.5" height="3.6" rx="1" style="fill:#2a2a2a;stroke:#111;stroke-width:0.6"/>
<rect x="343.2" y="628.9" width="3.2" height="1.6" rx="0.6" style="fill:#fff;stroke:none"/>
<rect x="342.2" y="633.5" width="5.5" height="3.6" rx="1" style="fill:#2a2a2a;stroke:#111;stroke-width:0.6"/>
<rect x="343.2" y="634.4" width="3.2" height="1.6" rx="0.6" style="fill:#fff;stroke:none"/>
<rect x="342.2" y="638.5" width="5.5" height="3.6" rx="1" style="fill:#2a2a2a;stroke:#111;stroke-width:0.6"/>
<rect x="343.2" y="639.4" width="3.2" height="1.6" rx="0.6" style="fill:#fff;stroke:none"/>
<rect x="342.2" y="643.5" width="5.5" height="3.6" rx="1" style="fill:#2a2a2a;stroke:#111;stroke-width:0.6"/>
<rect x="343.2" y="644.4" width="3.2" height="1.6" rx="0.6" style="fill:#fff;stroke:none"/>
<rect x="342.2" y="648.5" width="5.5" height="3.6" rx="1" style="fill:#2a2a2a;stroke:#111;stroke-width:0.6"/>
<rect x="343.2" y="649.4" width="3.2" height="1.6" rx="0.6" style="fill:#fff;stroke:none"/>
<rect x="342.2" y="653.5" width="5.5" height="3.6" rx="1" style="fill:#2a2a2a;stroke:#111;stroke-width:0.6"/>
<rect x="343.2" y="654.4" width="3.2" height="1.6" rx="0.6" style="fill:#fff;stroke:none"/>
<path d="M349.7,606.5 L353.8,605.8M349.7,606.5 L348.9,663.8"/>
<path d="M351.4,616.4 L357.9,613.9 L362.8,616.4 L366.1,619.6 L366.1,624.5 L359.5,628.6 L352.2,626.2 L351.4,616.4"/>
<path d="M352.0,619.0 L359.0,621.5 L366.0,619.6M359.0,621.5 L359.5,628.5"/>
<path d="M370.2,612.3 L377.6,611.5 L380.8,614.7 L381.2,622.9 L375.9,624.5 L371.0,622.9 L370.2,612.3"/>
<path d="M370.5,615.0 L376.0,617.5 L380.8,614.7M376.0,617.5 L375.9,624.5"/>
<path d="M353.0,628.5 L353.8,643.0M359.0,628.0 L359.5,642.5M364.5,625.0 L365.3,642.5M368.6,623.5 L369.3,641.0M375.0,624.0 L375.8,641.0"/>
<path d="M366.1,622.0 C366.6,622.2 367.7,622.6 369.3,623.0 C370.9,623.4 374.3,624.0 375.9,624.5 C377.5,625.0 378.4,623.0 379.0,626.0 C379.6,629.0 379.2,639.8 379.2,642.6"/>
<path d="M348.9,642.6 L379.2,643.4 L379.6,655.6 L371.0,658.9 L351.4,663.8 L348.9,662.2"/>
<rect x="351" y="645" width="5" height="4" rx="1.5" style="fill:#fff;stroke:#1a1a1a;stroke-width:1"/>
<rect x="357" y="644.5" width="5" height="4" rx="1.5" style="fill:#fff;stroke:#1a1a1a;stroke-width:1"/>
<rect x="363" y="645" width="4.5" height="4" rx="1.5" style="fill:#fff;stroke:#1a1a1a;stroke-width:1"/>
<rect x="352" y="650.5" width="5" height="4.5" rx="1.5" style="fill:#fff;stroke:#1a1a1a;stroke-width:1"/>
<rect x="358" y="650.5" width="5" height="4.5" rx="1.5" style="fill:#fff;stroke:#1a1a1a;stroke-width:1"/>
<rect x="353" y="656.5" width="6" height="5" rx="1.5" style="fill:#fff;stroke:#1a1a1a;stroke-width:1"/>
<rect x="360" y="656" width="6" height="5" rx="1.5" style="fill:#fff;stroke:#1a1a1a;stroke-width:1"/>
<rect x="368" y="648.5" width="5" height="4" rx="1.5" style="fill:#fff;stroke:#1a1a1a;stroke-width:1"/>
<rect x="373" y="648" width="5" height="4.5" rx="1.5" style="fill:#fff;stroke:#1a1a1a;stroke-width:1"/>
<rect x="367" y="654" width="6" height="4.5" rx="1.5" style="fill:#fff;stroke:#1a1a1a;stroke-width:1"/>
<path d="M350.0,649.5 L378.0,649.0M350.0,655.2 L378.0,654.0"/>
<path d="M353.8,600.0 C355.2,602.0 359.4,608.2 362.0,612.3 C364.6,616.4 367.9,619.7 369.4,624.5 C370.9,629.3 371.3,636.5 371.0,640.9 C370.7,645.3 370.0,645.9 367.7,650.7 C365.4,655.6 358.9,666.8 357.1,670.0"/>
<path d="M352.0,605.0 C351.8,607.5 351.1,613.8 350.5,620.0 C349.9,626.2 349.5,635.0 348.6,642.0 C347.7,649.0 345.8,657.7 345.0,662.0 C344.2,666.3 343.9,667.0 343.7,668.0"/></g>
</g>

<path class="k" d="M436,83.8 L413.5,83.8 L335.4,186.8"/>
<path class="k" d="M193,399.8 L180.5,399.8 L150.1,494.8"/>
<path class="k" d="M288,589.4 L313.2,589.4 L341.3,623.8"/>
<path class="k" d="M495.4,772.5 L480,772.5 L591.4,600 L604.5,578.9"/>
</svg>
</body></html>
